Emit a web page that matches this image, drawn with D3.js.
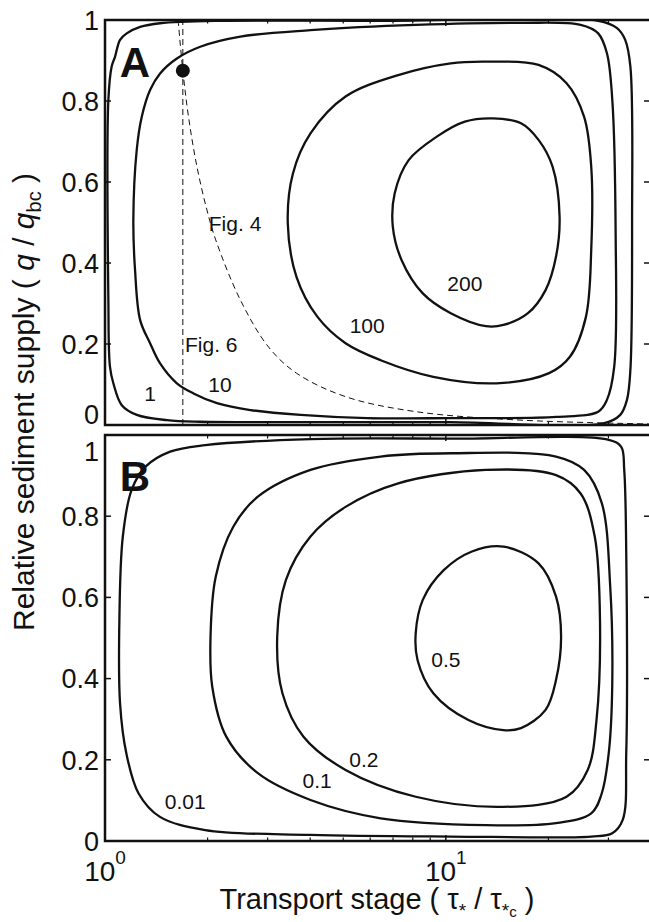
<!DOCTYPE html>
<html><head><meta charset="utf-8">
<script src="https://cdn.jsdelivr.net/npm/d3@7"></script>
<style>
body{margin:0;background:#fff}
svg{display:block}
text{font-family:"Liberation Sans",Arial,Helvetica,sans-serif;fill:#111}
</style>
</head><body>
<svg id="c" width="649" height="922"></svg>
<script>
// ---------- data ----------
const xDomain = [1, 40];
const xTickMajor = [1, 10];
const xTickMajorExp = ["0", "1"];
const xTickMinor = [2, 3, 4, 5, 6, 7, 8, 9, 20, 30, 40];
const yTicks = [0, 0.2, 0.4, 0.6, 0.8, 1];
const yTickLabels = ["0", "0.2", "0.4", "0.6", "0.8", "1"];

// Panel A contours (levels 1, 10, 100, 200)
const levelsA = ["1", "10", "100", "200"];
const contourA1 = [[1.023,0.309],[1.023,0.802],[1.046,0.885],[1.070,0.909],[1.107,0.951],[1.158,0.967],[1.268,0.983],[1.451,0.992],[2.179,0.998],[6.44,0.998],[28.0,0.998],[31.8,0.980],[33.6,0.951],[34.8,0.885],[35.2,0.506],[34.8,0.136],[34.0,0.062],[32.5,0.025],[29.0,0.004],[10.3,0.007],[3.75,0.007],[1.903,0.008],[1.519,0.012],[1.240,0.025],[1.120,0.049],[1.058,0.103],[1.034,0.144]];
const contourA10 = [[1.211,0.506],[1.239,0.679],[1.282,0.761],[1.356,0.827],[1.451,0.868],[1.625,0.905],[1.903,0.934],[2.495,0.959],[4.008,0.975],[8.16,0.988],[16.62,0.993],[24.87,0.988],[28.0,0.967],[29.7,0.918],[30.8,0.802],[31.5,0.473],[31.2,0.144],[29.7,0.062],[28.0,0.033],[21.1,0.020],[10.3,0.017],[5.886,0.017],[3.75,0.025],[2.671,0.037],[2.131,0.054],[1.818,0.078],[1.625,0.103],[1.451,0.152],[1.356,0.202],[1.268,0.259],[1.225,0.383]];
const contourA100 = [[13.11,0.897],[18.71,0.889],[22.61,0.844],[25.46,0.761],[26.71,0.638],[26.71,0.432],[25.77,0.267],[23.16,0.169],[20.09,0.128],[14.08,0.103],[9.19,0.119],[6.44,0.160],[5.08,0.202],[4.203,0.267],[3.646,0.366],[3.438,0.498],[3.560,0.621],[4.008,0.720],[5.08,0.811],[7.25,0.864],[10.34,0.893]];
const contourA200 = [[13.75,0.757],[16.62,0.745],[18.71,0.704],[20.57,0.638],[21.57,0.514],[21.06,0.416],[19.62,0.333],[17.42,0.276],[14.76,0.247],[13.11,0.244],[10.34,0.276],[8.56,0.325],[7.42,0.407],[6.99,0.490],[7.08,0.572],[7.78,0.654],[9.41,0.712],[11.37,0.749]];

// Panel B contours (levels 0.01, 0.1, 0.2, 0.5)
const levelsB = ["0.01", "0.1", "0.2", "0.5"];
const contourB001 = [[1.102,0.544],[1.128,0.750],[1.197,0.865],[1.315,0.922],[1.553,0.959],[1.968,0.975],[4.008,0.990],[10.34,0.991],[30.06,0.988],[32.71,0.971],[33.38,0.914],[33.84,0.709],[33.84,0.217],[33.04,0.052],[30.78,0.019],[26.71,0.011],[10.34,0.011],[4.008,0.015],[1.968,0.027],[1.446,0.060],[1.255,0.117],[1.155,0.216],[1.107,0.339]];
const contourB01 = [[10.34,0.955],[21.06,0.947],[25.46,0.914],[28.67,0.833],[30.37,0.626],[30.78,0.380],[30.06,0.216],[28.67,0.117],[26.71,0.068],[21.06,0.044],[13.11,0.039],[6.44,0.056],[4.008,0.101],[2.809,0.167],[2.269,0.257],[2.064,0.380],[2.040,0.503],[2.113,0.651],[2.379,0.774],[2.809,0.848],[4.008,0.914],[6.44,0.947]];
const contourB02 = [[13.11,0.914],[21.06,0.901],[24.86,0.856],[27.35,0.750],[28.34,0.544],[27.68,0.298],[26.08,0.175],[22.61,0.109],[14.76,0.084],[8.16,0.109],[5.08,0.175],[3.823,0.257],[3.316,0.364],[3.201,0.503],[3.396,0.643],[4.008,0.750],[5.08,0.823],[7.25,0.881]];
const contourB05 = [[14.76,0.725],[18.71,0.684],[21.06,0.602],[21.79,0.503],[21.06,0.397],[19.62,0.323],[16.62,0.278],[14.76,0.273],[11.65,0.298],[9.19,0.364],[8.26,0.446],[8.16,0.512],[8.56,0.594],[9.86,0.667],[11.93,0.713]];

// Reference curves in panel A
const fig4Curve = [[1.639,1.0],[1.692,0.875],[1.758,0.761],[1.861,0.638],[1.991,0.531],[2.113,0.457],[2.495,0.309],[3.016,0.193],[3.646,0.128],[5.08,0.070],[8.16,0.033],[16.62,0.012],[40,0.0025]];
const fig6Tau = 1.692;
const markerPoint = [1.692, 0.875];

// Labels (text, tau, q)
const labelTextA = ["1", "10", "100", "200", "Fig. 4", "Fig. 6"];
const labelTauA  = [1.356, 2.175, 5.88, 11.37, 2.408, 2.050];
const labelQA    = [0.079, 0.099, 0.247, 0.350, 0.498, 0.198];
const labelTextB = ["0.01", "0.1", "0.2", "0.5"];
const labelTauB  = [1.719, 4.19, 5.75, 10.0];
const labelQB    = [0.097, 0.150, 0.200, 0.446];

// ---------- drawing ----------
const svg = d3.select("#c");
svg.append("rect").attr("width",649).attr("height",922).attr("fill","#fff");

const x = d3.scaleLog().domain(xDomain).range([105, 651]);
const panels = [
  {name:"A", y:d3.scaleLinear().domain([0,1]).range([425,20]),
   contours:[contourA1,contourA10,contourA100,contourA200],
   lt:labelTextA, lx:labelTauA, lq:labelQA},
  {name:"B", y:d3.scaleLinear().domain([0,1]).range([841,435]),
   contours:[contourB001,contourB01,contourB02,contourB05],
   lt:labelTextB, lx:labelTauB, lq:labelQB}
];

const defs = svg.append("defs");
panels.forEach((p,i)=>{
  const [y0,y1] = p.y.range();
  defs.append("clipPath").attr("id","clip"+i).append("rect")
    .attr("x",105).attr("y",y1).attr("width",546).attr("height",y0-y1);
});

panels.forEach((p,i)=>{
  const g = svg.append("g");
  const yb = p.y.range()[0], yt = p.y.range()[1];
  const plot = g.append("g").attr("clip-path","url(#clip"+i+")");
  const line = d3.line().x(d=>x(d[0])).y(d=>p.y(d[1])).curve(d3.curveCatmullRomClosed.alpha(0.5));
  p.contours.forEach(c=>{
    plot.append("path").attr("d",line(c)).attr("fill","none")
      .attr("stroke","#111").attr("stroke-width",2.3).attr("stroke-linejoin","round");
  });
  if(i===0){
    const open = d3.line().x(d=>x(d[0])).y(d=>p.y(d[1])).curve(d3.curveCatmullRom.alpha(0.5));
    plot.append("path").attr("d",open(fig4Curve)).attr("fill","none")
      .attr("stroke","#111").attr("stroke-width",1).attr("stroke-dasharray","6,4");
    plot.append("line").attr("x1",x(fig6Tau)).attr("x2",x(fig6Tau))
      .attr("y1",p.y(0)).attr("y2",p.y(1))
      .attr("stroke","#111").attr("stroke-width",1).attr("stroke-dasharray","6,4");
    plot.append("circle").attr("cx",x(markerPoint[0])).attr("cy",p.y(markerPoint[1]))
      .attr("r",7).attr("fill","#111");
  }
  // contour labels
  p.lt.forEach((t,k)=>{
    g.append("text").attr("x",x(p.lx[k])).attr("y",p.y(p.lq[k]))
      .attr("dy","0.36em").attr("text-anchor","middle")
      .attr("font-size",21).text(t);
  });
  // frame
  g.append("rect").attr("x",105).attr("y",yt).attr("width",546).attr("height",yb-yt)
    .attr("fill","none").attr("stroke","#111").attr("stroke-width",2.5);
  // y ticks
  yTicks.forEach((v,k)=>{
    const yy = p.y(v);
    g.append("line").attr("x1",105).attr("x2",111).attr("y1",yy).attr("y2",yy)
      .attr("stroke","#111").attr("stroke-width",1.5);
    g.append("line").attr("x1",651).attr("x2",644).attr("y1",yy).attr("y2",yy)
      .attr("stroke","#111").attr("stroke-width",1.5);
    let off = 0;
    if(i===0 && v===0) off = -11;
    if(i===1 && v===1) off = 16;
    g.append("text").attr("x",99).attr("y",yy+off).attr("dy","0.36em")
      .attr("text-anchor","end").attr("font-size",27).text(yTickLabels[k]);
  });
  // x ticks
  xTickMajor.forEach(v=>{
    const xx = x(v);
    g.append("line").attr("x1",xx).attr("x2",xx).attr("y1",yb).attr("y2",yb-6).attr("stroke","#111").attr("stroke-width",1.5);
    g.append("line").attr("x1",xx).attr("x2",xx).attr("y1",yt).attr("y2",yt+6).attr("stroke","#111").attr("stroke-width",1.5);
  });
  xTickMinor.forEach(v=>{
    const xx = x(v);
    g.append("line").attr("x1",xx).attr("x2",xx).attr("y1",yb).attr("y2",yb-3.5).attr("stroke","#111").attr("stroke-width",1.2);
    g.append("line").attr("x1",xx).attr("x2",xx).attr("y1",yt).attr("y2",yt+3.5).attr("stroke","#111").attr("stroke-width",1.2);
  });
  // panel letter
  g.append("text").attr("x",135).attr("y", i===0 ? 77 : 491).attr("text-anchor","middle")
    .attr("font-size",42).attr("font-weight","bold").text(p.name);
});

// x tick labels (bottom only)
xTickMajor.forEach((v,k)=>{
  const t = svg.append("text").attr("x",x(v)).attr("y",881).attr("text-anchor","middle").attr("font-size",28);
  t.append("tspan").text("10");
  t.append("tspan").attr("dy",-17).attr("font-size",19).text(xTickMajorExp[k]);
});

// x axis title
const xt = svg.append("text").attr("x",377).attr("y",909).attr("text-anchor","middle").attr("font-size",29);
xt.append("tspan").text("Transport stage ( τ");
xt.append("tspan").attr("dy",8).attr("font-size",19).text("*");
xt.append("tspan").attr("dy",-8).text(" / τ");
xt.append("tspan").attr("dy",8).attr("font-size",19).text("*");
xt.append("tspan").attr("dy",0).attr("font-size",15).text("c");
xt.append("tspan").attr("dy",-8).text(" )");

// y axis title
const yl = svg.append("text").attr("transform","translate(34,402) rotate(-90)")
  .attr("text-anchor","middle").attr("font-size",30);
yl.append("tspan").text("Relative sediment supply ( ");
yl.append("tspan").attr("font-style","italic").text("q");
yl.append("tspan").text(" / ");
yl.append("tspan").attr("font-style","italic").text("q");
yl.append("tspan").attr("dy",7).attr("font-size",20).text("bc");
yl.append("tspan").attr("dy",-7).text(" )");
</script>
</body></html>
